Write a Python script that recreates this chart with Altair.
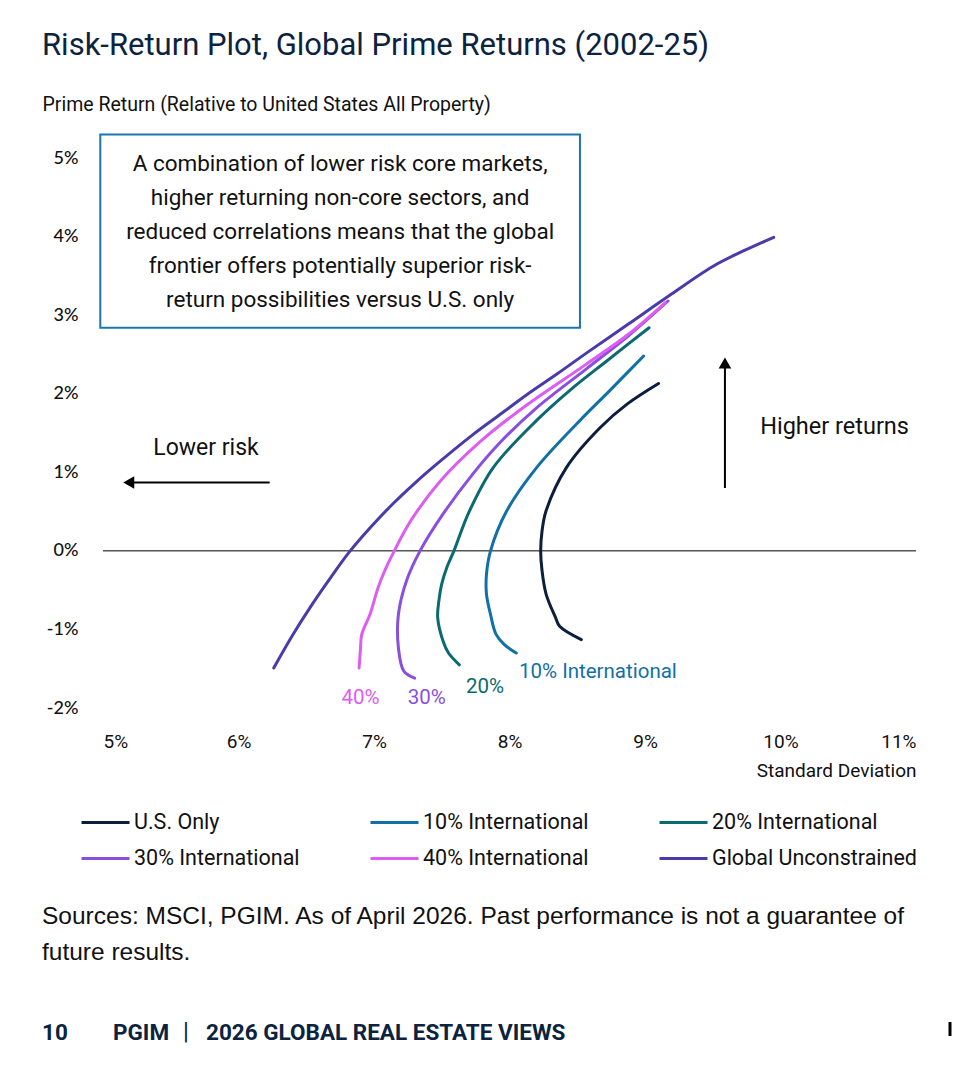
import altair as alt
import pandas as pd

# ---------------- data ----------------
series_names = ["U.S. Only", "10% International", "20% International",
                "30% International", "40% International", "Global Unconstrained"]
series_colors = ["#0B1E3C", "#1170A8", "#0A6A70", "#8A4FDE", "#DD5CF2", "#4A3BAA"]

us_sd = [8.53, 8.37, 8.34, 8.27, 8.24, 8.23, 8.24, 8.27, 8.42, 8.67, 8.87, 9.10]
us_ret = [-1.13, -0.96, -0.85, -0.55, -0.25, 0.00, 0.25, 0.51, 1.06, 1.57, 1.87, 2.13]

i10_sd = [8.05, 7.96, 7.90, 7.86, 7.83, 7.83, 7.86, 7.98, 8.20, 8.52, 8.74, 8.99]
i10_ret = [-1.30, -1.19, -1.06, -0.81, -0.55, -0.30, 0.00, 0.51, 1.06, 1.66, 2.04, 2.48]

i20_sd = [7.63, 7.55, 7.51, 7.47, 7.48, 7.50, 7.54, 7.59, 7.70, 7.88, 8.20, 8.45, 8.72, 9.03]
i20_ret = [-1.45, -1.30, -1.15, -0.85, -0.62, -0.42, -0.20, 0.00, 0.49, 1.06, 1.66, 2.05, 2.42, 2.84]

i30_sd = [7.30, 7.22, 7.18, 7.18, 7.24, 7.34, 7.51, 7.73, 7.92, 8.20, 8.57, 8.88, 9.17]
i30_ret = [-1.62, -1.53, -1.23, -0.81, -0.38, 0.00, 0.47, 0.98, 1.36, 1.82, 2.32, 2.74, 3.18]

i40_sd = [6.89, 6.90, 6.91, 6.97, 7.03, 7.08, 7.15, 7.27, 7.49, 7.79, 8.13, 8.57, 8.88, 9.15]
i40_ret = [-1.49, -1.25, -1.06, -0.81, -0.47, -0.25, 0.00, 0.38, 0.89, 1.40, 1.86, 2.38, 2.76, 3.16]

glob_sd = [6.26, 6.40, 6.54, 6.68, 6.82, 6.98, 7.14, 7.30, 7.46, 7.73, 7.95, 8.13,
           8.35, 8.57, 8.88, 9.18, 9.50, 9.73, 9.95]
glob_ret = [-1.49, -1.07, -0.69, -0.34, -0.01, 0.31, 0.60, 0.86, 1.10, 1.48, 1.76, 1.99,
            2.25, 2.52, 2.89, 3.25, 3.62, 3.82, 3.99]

x_ticks = [5, 6, 7, 8, 9, 10, 11]
y_ticks = [-2, -1, 0, 1, 2, 3, 4, 5]

curve_labels = ["40%", "30%", "20%", "10% International"]
curve_label_sd = [6.90, 7.39, 7.82, 8.07]
curve_label_ret = [-1.87, -1.87, -1.73, -1.54]
curve_label_series = ["40% International", "30% International", "20% International", "10% International"]

box_text = ("A combination of lower risk core markets,\n"
            "higher returning non-core sectors, and\n"
            "reduced correlations means that the global\n"
            "frontier offers potentially superior risk-\n"
            "return possibilities versus U.S. only")

all_sd = [us_sd, i10_sd, i20_sd, i30_sd, i40_sd, glob_sd]
all_ret = [us_ret, i10_ret, i20_ret, i30_ret, i40_ret, glob_ret]
rows = []
for name, sds, rets in zip(series_names, all_sd, all_ret):
    for i, (s, r) in enumerate(zip(sds, rets)):
        rows.append({"series": name, "sd": s, "ret": r, "idx": i})
df = pd.DataFrame(rows)

FONT = "Roboto"
W, H = 813, 550

xscale = alt.Scale(domain=[5, 11], nice=False, zero=False)
yscale = alt.Scale(domain=[-2, 5], nice=False, zero=False)

color = alt.Color(
    "series:N",
    sort=series_names,
    scale=alt.Scale(domain=series_names, range=series_colors),
    legend=alt.Legend(
        title=None, orient="none", legendX=-23, legendY=639, columns=3,
        direction="horizontal", symbolType="stroke", symbolSize=2304,
        symbolStrokeWidth=3, labelFont=FONT, labelFontSize=21.5, labelColor="#111111",
        labelOffset=3, columnPadding=64, rowPadding=-14, labelLimit=400,
    ),
)

lines = alt.Chart(df).mark_line(strokeWidth=3, interpolate="catmull-rom", strokeCap="round").encode(
    x=alt.X("sd:Q", scale=xscale,
            axis=alt.Axis(values=x_ticks, labelExpr="datum.value + '%'", domain=False, ticks=False,
                          tickSize=0, grid=False, labelFont=FONT, labelFontSize=19,
                          labelColor="#111111", labelPadding=24, title="Standard Deviation",
                          titleFont=FONT, titleFontSize=19, titleFontWeight="normal",
                          titleAnchor="end", titlePadding=10, titleColor="#111111")),
    y=alt.Y("ret:Q", scale=yscale,
            axis=alt.Axis(values=y_ticks, labelExpr="datum.value + '%'", domain=False, ticks=False,
                          tickSize=0, grid=False, labelFont="Lato", labelFontSize=18,
                          labelFontWeight=500, labelColor="#111111", labelPadding=25,
                          title="Prime Return (Relative to United States All Property)",
                          titleAngle=0, titleAlign="left", titleBaseline="middle",
                          titleX=-61, titleY=-54, titleFont=FONT, titleFontSize=19.5,
                          titleFontWeight="normal", titleColor="#111111")),
    color=color,
    order="idx:Q",
    detail="series:N",
)

zero = alt.Chart(pd.DataFrame({"ret": [0]})).mark_rule(color="#000000", strokeWidth=1).encode(
    y=alt.Y("ret:Q", scale=yscale)
)

box = alt.Chart(pd.DataFrame({"sd": [4.98], "sd2": [8.52], "ret": [5.30], "ret2": [2.84]})).mark_rect(
    fill="white", stroke="#1B75B0", strokeWidth=2
).encode(
    x=alt.X("sd:Q", scale=xscale), x2="sd2:Q",
    y=alt.Y("ret:Q", scale=yscale), y2="ret2:Q",
)

box_txt = alt.Chart(pd.DataFrame({"sd": [6.75], "ret": [4.92], "t": [box_text]})).mark_text(
    font=FONT, fontSize=22.5, color="#111111", align="center", baseline="middle",
    lineBreak="\n", lineHeight=34,
).encode(x=alt.X("sd:Q", scale=xscale), y=alt.Y("ret:Q", scale=yscale), text="t:N")

lab_df = pd.DataFrame({"t": curve_labels, "sd": curve_label_sd, "ret": curve_label_ret,
                       "series": curve_label_series})
lab_color = alt.Color("series:N", scale=alt.Scale(domain=series_names, range=series_colors), legend=None)
curve_lab_first = alt.Chart(lab_df).transform_filter(alt.datum.t != "10% International").mark_text(
    font=FONT, fontSize=20.5, align="center", baseline="middle").encode(
    x=alt.X("sd:Q", scale=xscale), y=alt.Y("ret:Q", scale=yscale), text="t:N", color=lab_color)
curve_lab_last = alt.Chart(lab_df).transform_filter(alt.datum.t == "10% International").mark_text(
    font=FONT, fontSize=20.5, align="left", baseline="middle").encode(
    x=alt.X("sd:Q", scale=xscale), y=alt.Y("ret:Q", scale=yscale), text="t:N", color=lab_color)

# arrows
arrow_h = alt.Chart(pd.DataFrame({"sd": [6.23], "sd2": [5.17], "ret": [0.87]})).mark_rule(
    color="#000000", strokeWidth=2).encode(
    x=alt.X("sd:Q", scale=xscale), x2="sd2:Q", y=alt.Y("ret:Q", scale=yscale))
head_h = alt.Chart(pd.DataFrame({"sd": [5.19], "ret": [0.87]})).mark_point(
    shape="triangle-left", filled=True, color="#000000", size=160, opacity=1).encode(
    x=alt.X("sd:Q", scale=xscale), y=alt.Y("ret:Q", scale=yscale))
arrow_v = alt.Chart(pd.DataFrame({"sd": [9.59], "ret": [0.80], "ret2": [2.40]})).mark_rule(
    color="#000000", strokeWidth=2).encode(
    x=alt.X("sd:Q", scale=xscale), y=alt.Y("ret:Q", scale=yscale), y2="ret2:Q")
head_v = alt.Chart(pd.DataFrame({"sd": [9.59], "ret": [2.39]})).mark_point(
    shape="triangle-up", filled=True, color="#000000", size=160, opacity=1).encode(
    x=alt.X("sd:Q", scale=xscale), y=alt.Y("ret:Q", scale=yscale))

lower_txt = alt.Chart(pd.DataFrame({"sd": [5.76], "ret": [1.31], "t": ["Lower risk"]})).mark_text(
    font=FONT, fontSize=23, color="#111111", align="center", baseline="middle").encode(
    x=alt.X("sd:Q", scale=xscale), y=alt.Y("ret:Q", scale=yscale), text="t:N")
higher_txt = alt.Chart(pd.DataFrame({"sd": [9.85], "ret": [1.58], "t": ["Higher returns"]})).mark_text(
    font=FONT, fontSize=23.5, color="#111111", align="left", baseline="middle").encode(
    x=alt.X("sd:Q", scale=xscale), y=alt.Y("ret:Q", scale=yscale), text="t:N")

# page texts (pixel positions relative to plot origin)
title_txt = alt.Chart(pd.DataFrame({"t": ["Risk-Return Plot, Global Prime Returns (2002-25)"]})).mark_text(
    font=FONT, fontSize=31, color="#0C2340", align="left", baseline="middle").encode(
    x=alt.value(-61), y=alt.value(-112), text="t:N")
src_txt = alt.Chart(pd.DataFrame({"t": ["Sources: MSCI, PGIM. As of April 2026. Past performance is not a guarantee of\nfuture results."]})).mark_text(
    font="Liberation Sans", fontSize=24.5, color="#111111", align="left", baseline="middle",
    lineBreak="\n", lineHeight=36).encode(
    x=alt.value(-61), y=alt.value(759), text="t:N")
foot_df = pd.DataFrame({"t": ["10", "PGIM", "2026 GLOBAL REAL ESTATE VIEWS"], "px": [-61, 10, 103]})
foot_txt = alt.Chart(foot_df).mark_text(
    font=FONT, fontSize=22.5, fontWeight="bold", color="#0C2340", align="left", baseline="middle").encode(
    x=alt.X("px:Q", scale=None), y=alt.value(875), text="t:N")
bar_txt = alt.Chart(pd.DataFrame({"t": ["|"]})).mark_text(
    font=FONT, fontSize=24, color="#0C2340", align="center", baseline="middle").encode(
    x=alt.value(83), y=alt.value(874), text="t:N")
edge_bar = alt.Chart(pd.DataFrame({"v": [1]})).mark_rule(color="#000000", strokeWidth=3).encode(
    x=alt.value(847), y=alt.value(864), y2=alt.value(878))

chart = alt.layer(
    zero, box, box_txt, arrow_h, head_h, arrow_v, head_v, lower_txt, higher_txt,
    lines, curve_lab_first, curve_lab_last, title_txt, src_txt, foot_txt, bar_txt, edge_bar,
).resolve_scale(color="independent").properties(
    width=W, height=H,
    autosize=alt.AutoSizeParams(type="none"),
    padding={"left": 103, "top": 158, "right": 37, "bottom": 375},
    background="white",
).configure_view(stroke=None)

chart.save("out.html", embed_options={"renderer": "svg", "actions": False})
